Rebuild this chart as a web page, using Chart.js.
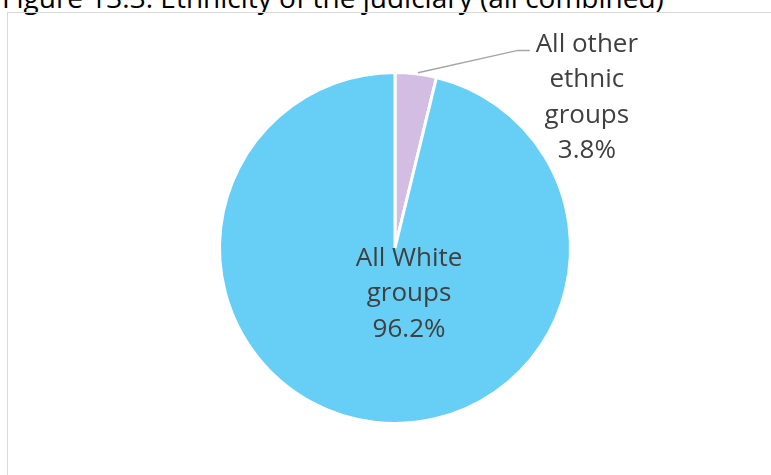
<!DOCTYPE html>
<html>
<head>
<meta charset="utf-8">
<script src="https://cdn.jsdelivr.net/npm/chart.js@4"></script>
<style>
  html, body { margin: 0; padding: 0; background: #fff; overflow: hidden; }
  #wrap { position: relative; width: 771px; height: 475px; }
  #title {
    position: absolute; left: 2px; top: -17px; white-space: nowrap; line-height: 1;
    font-family: "Open Sans", sans-serif; font-size: 28px; color: #000;
  }
  #frame {
    position: absolute; left: 7px; top: 12px; width: 800px; height: 500px;
    border: 1.5px solid #d9d9d9; box-sizing: border-box;
  }
  #chartJudiciary { position: absolute; left: 0; top: 0; }
</style>
</head>
<body>
<div id="wrap">
  <div id="title">Figure 13.3: Ethnicity of the judiciary (all combined)</div>
  <div id="frame"></div>
  <canvas id="chartJudiciary" width="771" height="475"></canvas>
</div>
<script>
  const groupLabels = ['All other ethnic groups', 'All White groups']
  const groupShares = [3.8, 96.2]
  const groupColours = ['#d3bde3', '#67cff5']

  // label lines per slice, kept short so they wrap like the sheet did
  const labelLines = [
    ['All other', 'ethnic', 'groups'],
    ['All White', 'groups']
  ]

  const labelFont = '26px "Open Sans", sans-serif'
  const lineHeight = 35.5

  const sliceLabels = {
    id: 'sliceLabels',
    afterDatasetsDraw(chart) {
      const ctx = chart.ctx
      const meta = chart.getDatasetMeta(0)
      ctx.save()
      ctx.font = labelFont
      ctx.fillStyle = '#404040'
      ctx.textAlign = 'center'
      ctx.textBaseline = 'middle'

      meta.data.forEach((arc, i) => {
        const p = arc.getProps(['x', 'y', 'startAngle', 'endAngle', 'outerRadius'], true)
        const mid = (p.startAngle + p.endAngle) / 2
        const lines = labelLines[i].concat([groupShares[i].toFixed(1) + '%'])

        if (i === 0) {
          // small slice: label sits outside with a leader line
          const ex = p.x + Math.cos(mid) * p.outerRadius
          const ey = p.y + Math.sin(mid) * p.outerRadius
          const lx = p.x + p.outerRadius * 0.70
          const ly = p.y - p.outerRadius * 1.126
          const tx = lx + 69
          const ty = ly - 6

          ctx.strokeStyle = '#a6a6a6'
          ctx.lineWidth = 1.5
          ctx.beginPath()
          ctx.moveTo(ex + 2, ey - 1)
          ctx.lineTo(lx, ly)
          ctx.lineTo(lx + 12, ly)
          ctx.stroke()

          lines.forEach((t, k) => ctx.fillText(t, tx, ty + k * lineHeight))
        } else {
          const tx = p.x + p.outerRadius * 0.08
          const ty = p.y + p.outerRadius * 0.06
          lines.forEach((t, k) => ctx.fillText(t, tx, ty + k * lineHeight))
        }
      })
      ctx.restore()
    }
  }

  new Chart(document.getElementById('chartJudiciary').getContext('2d'), {
    type: 'pie',
    data: {
      labels: groupLabels,
      datasets: [{
        data: groupShares,
        backgroundColor: groupColours,
        borderColor: '#ffffff',
        borderWidth: 3
      }]
    },
    options: {
      responsive: false,
      animation: false,
      layout: { padding: { top: 71, bottom: 50, left: 19, right: 0 } },
      plugins: {
        legend: { display: false },
        tooltip: { enabled: false }
      }
    },
    plugins: [sliceLabels]
  })
</script>
</body>
</html>
